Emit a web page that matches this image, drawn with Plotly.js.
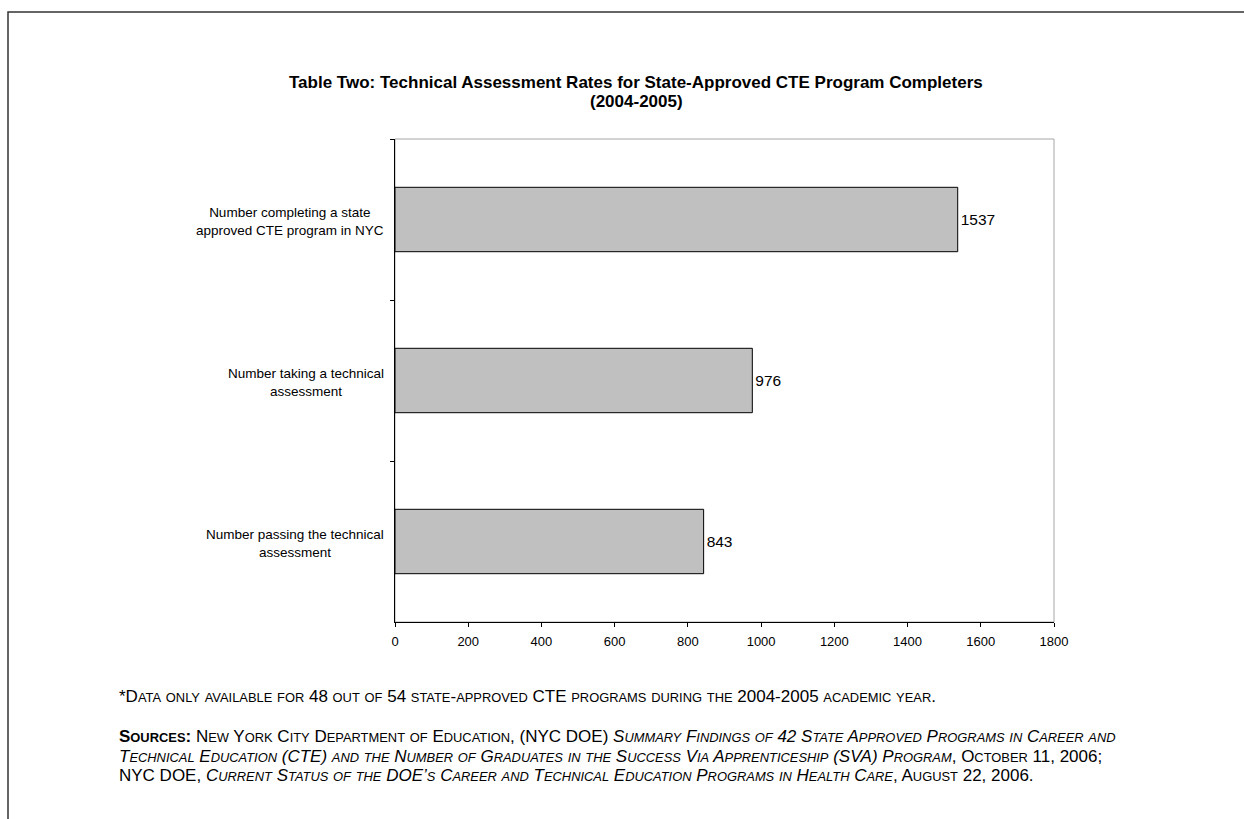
<!DOCTYPE html>
<html>
<head>
<meta charset="utf-8">
<script src="https://cdn.plot.ly/plotly-3.0.1.min.js"></script>
<style>html,body{margin:0;padding:0;background:#fff;}#chart{width:1244px;height:819px;}</style>
</head>
<body>
<div id="chart"></div>
<script>
const categories = [
  "Number completing a state<br>approved CTE program in NYC",
  "Number taking a technical<br>assessment",
  "Number passing the technical<br>assessment"
];
const values = [1537, 976, 843];
const xTicks = [0, 200, 400, 600, 800, 1000, 1200, 1400, 1600, 1800];
const titleLines = [
  "Table Two: Technical Assessment Rates for State-Approved CTE Program Completers",
  "(2004-2005)"
];
const footLines = [
  "*Data only available for 48 out of 54 state-approved CTE programs during the 2004-2005 academic year.",
  "<b>Sources:</b> New York City Department of Education, (NYC DOE) <i>Summary Findings of 42 State Approved Programs in Career and</i>",
  "<i>Technical Education (CTE) and the Number of Graduates in the Success Via Apprenticeship (SVA) Program</i>, October 11, 2006;",
  "NYC DOE, <i>Current Status of the DOE’s Career and Technical Education Programs in Health Care</i>, August 22, 2006."
];

// plot area pixel geometry
const L = 395, R = 1054, T = 139, B = 622, W = 1244, H = 819;
const pw = R - L, ph = B - T;
const px = x => (x - L) / pw;
const py = y => (B - y) / ph;

const SANS = 'Arial, "Liberation Sans", sans-serif';
const NARROW = '"Liberation Sans Narrow", "Arial Narrow", Arial, sans-serif';
const FOOT_SIZE = 17;
const SC_RATIO = 0.76;

// emulate small caps: lowercase runs become smaller uppercase
function smallCaps(s) {
  const parts = s.split(/(<[^>]+>)/);
  const small = (FOOT_SIZE * SC_RATIO).toFixed(1);
  return parts.map(p => {
    if (p.startsWith('<')) return p;
    return p.replace(/[a-z]+/g, m => '<span style="font-size:' + small + 'px">' + m.toUpperCase() + '</span>');
  }).join('');
}

const trace = {
  type: 'bar',
  orientation: 'h',
  x: values,
  y: categories,
  width: 0.4,
  marker: {color: '#c0c0c0', line: {color: '#000', width: 1}},
  text: values.map(String),
  textposition: 'outside',
  textfont: {family: SANS, size: 15.5, color: '#000'},
  cliponaxis: false,
  hoverinfo: 'none'
};

const annotations = [];
// title lines
const titleY = [82, 101];
titleLines.forEach((t, i) => annotations.push({
  text: t, xref: 'paper', yref: 'paper', x: px(636), y: py(titleY[i]),
  xanchor: 'center', yanchor: 'middle', showarrow: false,
  font: {family: SANS, size: 17, color: '#000', weight: 'bold'}
}));
// category labels, centred lines, right edge near axis
categories.forEach(c => annotations.push({
  text: c, xref: 'paper', yref: 'y', x: px(386), y: c, yshift: -2,
  xanchor: 'right', yanchor: 'middle', align: 'center', showarrow: false,
  font: {family: SANS, size: 13.5, color: '#000'}
}));
// footnote lines
const footY = [696, 736, 756, 775];
footLines.forEach((t, i) => annotations.push({
  text: smallCaps(t), xref: 'paper', yref: 'paper', x: px(117), y: py(footY[i]),
  xanchor: 'left', yanchor: 'middle', align: 'left', showarrow: false,
  font: {family: NARROW, size: FOOT_SIZE, color: '#000'}
}));

const layout = {
  width: W, height: H,
  margin: {l: L, r: W - R, t: T, b: H - B, pad: 0},
  paper_bgcolor: '#fff', plot_bgcolor: '#fff',
  showlegend: false,
  xaxis: {
    range: [0, 1800],
    tickvals: xTicks,
    ticktext: xTicks.map(String),
    showgrid: false, zeroline: false,
    showline: true, linecolor: '#000', linewidth: 1,
    ticks: 'outside', ticklen: 4, tickcolor: '#000',
    tickfont: {family: SANS, size: 13, color: '#000'},
    ticklabelstandoff: 3,
    fixedrange: true
  },
  yaxis: {
    autorange: 'reversed',
    type: 'category',
    showgrid: false, zeroline: false,
    showline: true, linecolor: '#000', linewidth: 1,
    ticks: 'outside', ticklen: 4, tickcolor: '#000',
    tickson: 'boundaries',
    showticklabels: false,
    fixedrange: true
  },
  shapes: [
    {type: 'rect', xref: 'paper', yref: 'paper', x0: 0, x1: 1, y0: 0, y1: 1,
     line: {color: '#a6a6a6', width: 1}, layer: 'below'},
    {type: 'rect', xref: 'paper', yref: 'paper', x0: px(8), x1: px(1260), y0: py(12), y1: py(840),
     line: {color: '#333', width: 1.5}, layer: 'below'}
  ],
  annotations: annotations
};

Plotly.newPlot('chart', [trace], layout, {staticPlot: true, displayModeBar: false});
</script>
</body>
</html>
